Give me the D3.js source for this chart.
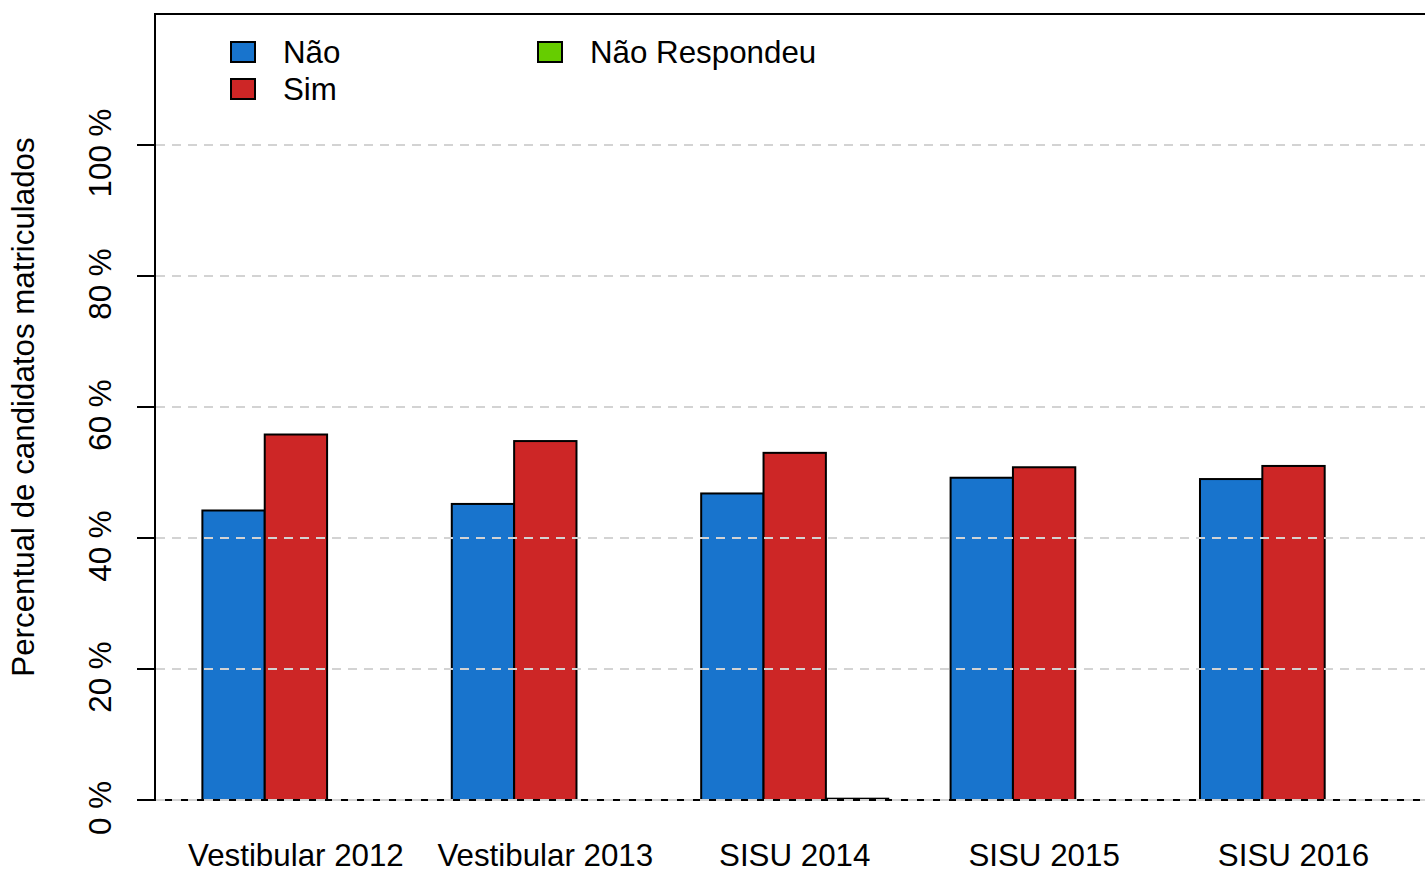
<!DOCTYPE html>
<html>
<head>
<meta charset="utf-8">
<script src="https://cdnjs.cloudflare.com/ajax/libs/d3/7.8.5/d3.min.js"></script>
<style>
	body { margin: 0; background: #fff; }
	text { font-family: "Liberation Sans", Arial, sans-serif; fill: #000; }
</style>
</head>
<body>
<div id="chart-area"></div>
<script>

// data (percent of enrolled candidates)
let categories = ["Vestibular 2012", "Vestibular 2013", "SISU 2014", "SISU 2015", "SISU 2016"];
let seriesNames = ["Não", "Sim", "Não Respondeu"];
let nao = [44.2, 45.2, 46.8, 49.2, 49.0];
let sim = [55.8, 54.8, 53.0, 50.8, 51.0];
let naoRespondeu = [0, 0, 0.2, 0, 0];
let yTicks = [0, 20, 40, 60, 80, 100];

let colors = ["#1874CD", "#CD2626", "#66CD00"];
let fontSize = 31.3;

let width = 1425,
	height = 870;

let plot = {left: 155, top: 14, bottom: 800};

let svg = d3.select("#chart-area").append("svg")
	.attr("width", width)
	.attr("height", height);

// R barplot style coordinates: each group = 3 bars + 1 bar gap, xlim padded by 4%
let nBars = categories.length * (seriesNames.length + 1);
let unit = 62.35;
let x = d3.scaleLinear()
	.domain([1 - 0.04 * (nBars - 1), nBars + 0.04 * (nBars - 1)])
	.range([plot.left, plot.left + (nBars - 1) * 1.08 * unit]);

let y = d3.scaleLinear()
	.domain([0, 120])
	.range([plot.bottom, plot.top]);

let series = [nao, sim, naoRespondeu];
let bars = [];
categories.forEach((c, i) => {
	series.forEach((s, j) => {
		bars.push({cat: c, group: i, k: j, value: s[i]});
	});
});
let barLeft = d => 1 + d.group * (seriesNames.length + 1) + d.k;

// bars
svg.selectAll(".bar")
	.data(bars)
	.enter()
	.append("rect")
	.attr("class", "bar")
	.attr("x", d => x(barLeft(d)))
	.attr("width", d => x(barLeft(d) + 1) - x(barLeft(d)))
	.attr("y", d => y(d.value))
	.attr("height", d => y(0) - y(d.value))
	.attr("fill", d => colors[d.k])
	.attr("stroke", "#000")
	.attr("stroke-width", 2);

// box
svg.append("rect")
	.attr("x", plot.left)
	.attr("y", plot.top)
	.attr("width", x.range()[1] - plot.left)
	.attr("height", plot.bottom - plot.top)
	.attr("fill", "none")
	.attr("stroke", "#000")
	.attr("stroke-width", 2);

// grid lines (drawn over bars)
svg.selectAll(".grid")
	.data(yTicks)
	.enter()
	.append("line")
	.attr("class", "grid")
	.attr("x1", plot.left + 1)
	.attr("x2", width)
	.attr("y1", d => y(d))
	.attr("y2", d => y(d))
	.attr("stroke", "#d3d3d3")
	.attr("stroke-width", 2)
	.attr("stroke-dasharray", "9,7");

// y axis ticks + rotated labels
svg.selectAll(".ytick")
	.data(yTicks)
	.enter()
	.append("line")
	.attr("class", "ytick")
	.attr("x1", plot.left - 18)
	.attr("x2", plot.left)
	.attr("y1", d => y(d))
	.attr("y2", d => y(d))
	.attr("stroke", "#000")
	.attr("stroke-width", 2);

svg.selectAll(".ylabel")
	.data(yTicks)
	.enter()
	.append("text")
	.attr("class", "ylabel")
	.attr("transform", d => "translate(111," + (y(d) + 8) + ") rotate(-90)")
	.attr("text-anchor", "middle")
	.style("font-size", fontSize + "px")
	.text(d => d + " %");

svg.append("text")
	.attr("transform", "translate(34," + ((plot.top + plot.bottom) / 2) + ") rotate(-90)")
	.attr("text-anchor", "middle")
	.style("font-size", fontSize + "px")
	.text("Percentual de candidatos matriculados");

// x category labels, centred under each group
svg.selectAll(".xlabel")
	.data(categories)
	.enter()
	.append("text")
	.attr("class", "xlabel")
	.attr("x", (d, i) => x(1 + i * (seriesNames.length + 1) + seriesNames.length / 2))
	.attr("y", 866)
	.attr("text-anchor", "middle")
	.style("font-size", fontSize + "px")
	.text(d => d);

// legend
let legendPos = [
	{bx: 231, by: 42, tx: 283},
	{bx: 231, by: 79, tx: 283},
	{bx: 538, by: 42, tx: 590}
];
let legend = svg.selectAll(".legend")
	.data(seriesNames)
	.enter()
	.append("g")
	.attr("class", "legend");

legend.append("rect")
	.attr("x", (d, i) => legendPos[i].bx)
	.attr("y", (d, i) => legendPos[i].by)
	.attr("width", 24)
	.attr("height", 20)
	.attr("fill", (d, i) => colors[i])
	.attr("stroke", "#000")
	.attr("stroke-width", 2);

legend.append("text")
	.attr("x", (d, i) => legendPos[i].tx)
	.attr("y", (d, i) => legendPos[i].by + 21)
	.style("font-size", fontSize + "px")
	.text(d => d);

</script>
</body>
</html>
